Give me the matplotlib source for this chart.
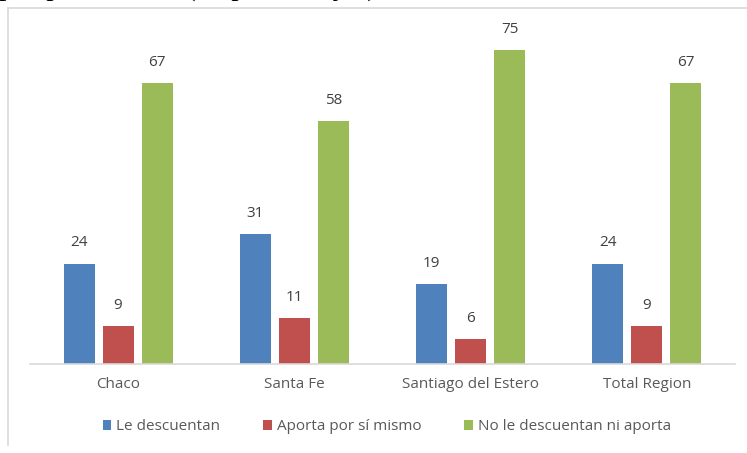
import numpy as np
import matplotlib
matplotlib.use("Agg")
import matplotlib.pyplot as plt
from matplotlib.lines import Line2D
from matplotlib.patches import Patch

# Data (percentages)
regions = ["Chaco", "Santa Fe", "Santiago del Estero", "Total Region"]
series_names = ["Le descuentan", "Aporta por sí mismo", "No le descuentan ni aporta"]
le_descuentan = [24, 31, 19, 24]
aporta_solo = [9, 11, 6, 9]
no_descuentan = [67, 58, 75, 67]
colors = ["#4F81BD", "#C0504D", "#9BBB59"]

plt.rcParams["font.family"] = ["Open Sans", "DejaVu Sans"]

W, H = 747, 453
fig = plt.figure(figsize=(W / 100, H / 100), dpi=100)

# axes placed in pixel terms
left, right, bottom, top = 30, 735, 364, 29
ax = fig.add_axes([left / W, 1 - bottom / H, (right - left) / W, (bottom - top) / H])

x = np.arange(len(regions))
width = 0.176
step = 0.221
for k, vals in enumerate([le_descuentan, aporta_solo, no_descuentan]):
    pos = x + (k - 1) * step
    ax.bar(pos, vals, width, color=colors[k], label=series_names[k])
    for xp, v in zip(pos, vals):
        ax.annotate(str(v), (xp, v), xytext=(0, 14.8), textcoords="offset points",
                    ha="center", va="center", fontsize=11, color="#404040")

ax.set_xlim(-0.5, len(regions) - 0.5)
ax.set_ylim(0, 80)
ax.set_yticks([])
ax.set_xticks(x)
ax.set_xticklabels(regions, fontsize=11, color="#595959")
ax.tick_params(axis="x", length=0, pad=9.5)
for s in ["top", "right", "left"]:
    ax.spines[s].set_visible(False)
ax.spines["bottom"].set_color("#d9d9d9")
ax.spines["bottom"].set_linewidth(1.2)

handles = [Patch(facecolor=c) for c in colors]
fig.legend(handles, series_names, loc="center", bbox_to_anchor=(387 / W, 1 - 427 / H),
           ncol=3, frameon=False, fontsize=11, handlelength=0.55, handleheight=0.55,
           handletextpad=0.35, columnspacing=2.8, labelcolor="#595959")

# chart border (top and left) of the embedded chart
fig.add_artist(Line2D([8 / W, 1], [1 - 8 / H, 1 - 8 / H], color="#d9d9d9", lw=1.2))
fig.add_artist(Line2D([8 / W, 8 / W], [1 - 8 / H, 1 - 445 / H], color="#d9d9d9", lw=1.2))

# caption above the chart, cut off at the top of the image
fig.text(-0.002, 1 + 5 / H, "por provincias. (en porcentajes)", family="Liberation Serif",
         fontsize=21.5, va="baseline", ha="left", color="black")

fig.savefig("out.png", dpi=100)
